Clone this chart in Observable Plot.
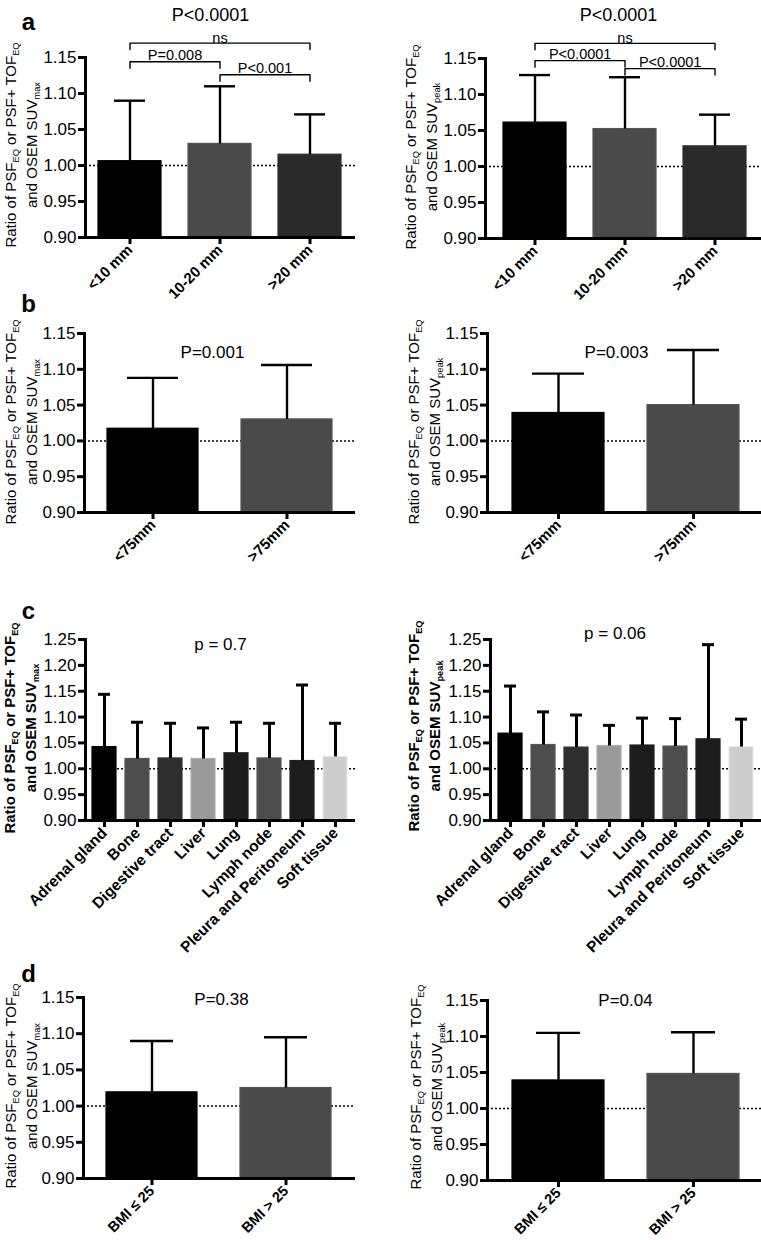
<!DOCTYPE html>
<html><head><meta charset="utf-8">
<script src="https://cdn.jsdelivr.net/npm/d3@7"></script>
<script src="https://cdn.jsdelivr.net/npm/@observablehq/plot@0.6"></script>
<style>
body{margin:0;background:#fff;font-family:"Liberation Sans",Arial,Helvetica,sans-serif;}
#fig{position:relative;width:761px;height:1240px;overflow:hidden;background:#fff;}
.pn{position:absolute;}
.ylab{position:absolute;transform:translate(-50%,-50%) rotate(-90deg);white-space:nowrap;text-align:center;font-size:15px;line-height:21px;color:#000;}
.ylab sub{font-size:0.62em;vertical-align:-0.3em;line-height:0;}
.ylab.bold{font-weight:bold;}
</style></head>
<body><div id="fig"></div>
<script>
// ---------- data ----------
const yMin = 0.90;
const yTicksNarrow = [0.90, 0.95, 1.00, 1.05, 1.10, 1.15];
const yTicksWide = [0.90, 0.95, 1.00, 1.05, 1.10, 1.15, 1.20, 1.25];

// (a) lesion size
const sizeCats = ["<10 mm", "10-20 mm", ">20 mm"];
const sizeMaxMean = [1.006, 1.030, 1.015];
const sizeMaxErr = [1.090, 1.110, 1.071];
const sizePeakMean = [1.061, 1.052, 1.028];
const sizePeakErr = [1.127, 1.124, 1.072];
const sizeColors = ["#000000", "#4a4a4a", "#2a2a2a"];
const sizeMaxTest = "P<0.0001";
const sizePeakTest = "P<0.0001";
const sizeMaxBrFrom = ["<10 mm", "<10 mm", "10-20 mm"];
const sizeMaxBrTo = [">20 mm", "10-20 mm", ">20 mm"];
const sizeMaxBrLabel = ["ns", "P=0.008", "P<0.001"];
const sizeMaxBrLevel = [1.170, 1.144, 1.126];
const sizePeakBrFrom = ["<10 mm", "<10 mm", "10-20 mm"];
const sizePeakBrTo = [">20 mm", "10-20 mm", ">20 mm"];
const sizePeakBrLabel = ["ns", "P<0.0001", "P<0.0001"];
const sizePeakBrLevel = [1.171, 1.147, 1.136];

// (b) MTV
const mtvCats = ["<75mm", ">75mm"];
const mtvMaxMean = [1.017, 1.030];
const mtvMaxErr = [1.088, 1.106];
const mtvPeakMean = [1.039, 1.050];
const mtvPeakErr = [1.094, 1.127];
const mtvColors = ["#000000", "#4a4a4a"];
const mtvMaxTest = "P=0.001";
const mtvPeakTest = "P=0.003";

// (c) organ
const organCats = ["Adrenal gland", "Bone", "Digestive tract", "Liver", "Lung", "Lymph node", "Pleura and Peritoneum", "Soft tissue"];
const organMaxMean = [1.042, 1.019, 1.020, 1.019, 1.030, 1.020, 1.015, 1.023];
const organMaxErr = [1.144, 1.090, 1.088, 1.079, 1.090, 1.088, 1.162, 1.088];
const organPeakMean = [1.068, 1.046, 1.041, 1.044, 1.045, 1.043, 1.057, 1.042];
const organPeakErr = [1.160, 1.110, 1.104, 1.084, 1.098, 1.097, 1.240, 1.096];
const organColors = ["#000000", "#4d4d4d", "#2e2e2e", "#9a9a9a", "#1c1c1c", "#4d4d4d", "#1c1c1c", "#cdcdcd"];
const organMaxTest = "p = 0.7";
const organPeakTest = "p = 0.06";

// (d) BMI
const bmiCats = ["BMI \u2264 25", "BMI > 25"];
const bmiMaxMean = [1.019, 1.025];
const bmiMaxErr = [1.090, 1.095];
const bmiPeakMean = [1.039, 1.048];
const bmiPeakErr = [1.105, 1.106];
const bmiColors = ["#000000", "#4a4a4a"];
const bmiMaxTest = "P=0.38";
const bmiPeakTest = "P=0.04";

const panelLetters = ["a", "b", "c", "d"];

// ---------- drawing ----------
const fig = document.getElementById("fig");
const FONT = '"Liberation Sans", Arial, Helvetica, sans-serif';

function addPanel(p) {
  const rows = p.cats.map((c, i) => ({
    cat: c, mean: p.means[i], err: p.errs[i], base: yMin,
    fill: p.colors[i], edge: d3.rgb(p.colors[i]).brighter(0.35).formatHex()
  }));
  const n = p.cats.length;
  const fw = p.W - p.mL - p.mR;
  const step = fw / (n - p.pi + 2 * p.po);
  const marks = [
    Plot.ruleY([1], {strokeDasharray: "2,2", strokeWidth: 1.5}),
    Plot.barY(rows, {x: "cat", y1: "base", y2: "mean", fill: "fill", stroke: "edge", strokeWidth: 1.2}),
    Plot.ruleX(rows, {x: "cat", y1: "mean", y2: "err", strokeWidth: p.ew}),
    Plot.tickY(rows, {x: "cat", y: "err", strokeWidth: p.ew, insetLeft: p.cap, insetRight: p.cap}),
    Plot.axisY({ticks: p.yTicks, tickFormat: d3.format(".2f"), tickSize: 7, tickPadding: 2, strokeWidth: 3, fontSize: 17, label: null}),
    Plot.axisX({tickSize: 7, tickPadding: 3, strokeWidth: 3, tickRotate: -45, fontSize: p.xfs, fontWeight: "bold", label: null}),
    Plot.frame({anchor: "left", strokeWidth: 3}),
    Plot.ruleY([yMin], {strokeWidth: 3}),
    Plot.text([p.title], {frameAnchor: "top", dx: p.tdx, dy: p.tdy, fontSize: p.tsize})
  ];
  if (p.letter) {
    marks.push(Plot.text([p.letter], {frameAnchor: "top-left", textAnchor: "middle", dx: p.ldx, dy: p.ldy, fontSize: 24, fontWeight: "bold"}));
  }
  if (p.br) {
    const pts = [];
    const drop = 0.009;
    p.br.from.forEach((f, i) => {
      const t = p.br.to[i], y = p.br.level[i];
      pts.push({k: i, x: f, y: y - drop}, {k: i, x: f, y: y}, {k: i, x: t, y: y}, {k: i, x: t, y: y - drop});
      const ia = p.cats.indexOf(f), ib = p.cats.indexOf(t);
      const lbl = p.br.label[i];
      const even = (ib - ia) % 2 === 0;
      marks.push(Plot.text([{x: even ? p.cats[(ia + ib) / 2] : f, y: y, t: lbl}], {
        x: "x", y: "y", text: "t", fontSize: 14.5,
        dx: even ? 0 : step * (ib - ia) / 2,
        dy: lbl === "ns" ? -5 : -6.5
      }));
    });
    marks.push(Plot.line(pts, {x: "x", y: "y", z: "k", stroke: "#000", strokeWidth: 1.4}));
  }
  const svg = Plot.plot({
    width: p.W, height: p.H,
    marginLeft: p.mL, marginRight: p.mR, marginTop: p.mT, marginBottom: p.mB,
    x: {domain: p.cats, paddingInner: p.pi, paddingOuter: p.po},
    y: {domain: [yMin, p.yMax]},
    color: {type: "identity"},
    style: {fontFamily: FONT, background: "transparent", overflow: "visible", color: "#000"},
    marks
  });
  const div = document.createElement("div");
  div.className = "pn";
  div.style.left = p.L + "px";
  div.style.top = p.T + "px";
  div.style.width = p.W + "px";
  div.style.height = p.H + "px";
  div.appendChild(svg);
  fig.appendChild(div);

  const yl = document.createElement("div");
  yl.className = "ylab" + (p.boldLabel ? " bold" : "");
  yl.style.left = p.ylx + "px";
  yl.style.top = p.yly + "px";
  yl.innerHTML = "Ratio of PSF<sub>EQ</sub> or PSF+ TOF<sub>EQ</sub><br>and OSEM SUV<sub>" + p.suv + "</sub>";
  fig.appendChild(yl);
}

addPanel({cats: sizeCats, means: sizeMaxMean, errs: sizeMaxErr, colors: sizeColors, yMax: 1.15, yTicks: yTicksNarrow,
  L: 0, T: 0, W: 380, H: 300, mL: 85, mR: 25, mT: 57, mB: 63, pi: 0.3, po: 0.15, ew: 2.4, cap: 16, xfs: 15,
  title: sizeMaxTest, tdx: -10, tdy: -49, tsize: 18, suv: "max", ylx: 21, yly: 145,
  letter: panelLetters[0], ldx: -57, ldy: -44.7,
  br: {from: sizeMaxBrFrom, to: sizeMaxBrTo, label: sizeMaxBrLabel, level: sizeMaxBrLevel}});
addPanel({cats: sizeCats, means: sizePeakMean, errs: sizePeakErr, colors: sizeColors, yMax: 1.15, yTicks: yTicksNarrow,
  L: 380, T: 0, W: 390, H: 300, mL: 105, mR: 5, mT: 58, mB: 62, pi: 0.3, po: 0.2, ew: 2.4, cap: 16, xfs: 15,
  title: sizePeakTest, tdx: -7, tdy: -50, tsize: 18, suv: "peak", ylx: 421, yly: 147,
  br: {from: sizePeakBrFrom, to: sizePeakBrTo, label: sizePeakBrLabel, level: sizePeakBrLevel}});

addPanel({cats: mtvCats, means: mtvMaxMean, errs: mtvMaxErr, colors: mtvColors, yMax: 1.15, yTicks: yTicksNarrow,
  L: 0, T: 290, W: 380, H: 300, mL: 84, mR: 25, mT: 43, mB: 78, pi: 0.32, po: 0.17, ew: 2.4, cap: 20, xfs: 15,
  title: mtvMaxTest, tdx: -7.5, tdy: 12, tsize: 17, suv: "max", ylx: 21, yly: 422,
  letter: panelLetters[1], ldx: -56, ldy: -38.5});
addPanel({cats: mtvCats, means: mtvPeakMean, errs: mtvPeakErr, colors: mtvColors, yMax: 1.15, yTicks: yTicksNarrow,
  L: 380, T: 290, W: 390, H: 300, mL: 107, mR: 7, mT: 43, mB: 78, pi: 0.32, po: 0.176, ew: 2.4, cap: 20, xfs: 15,
  title: mtvPeakTest, tdx: -9, tdy: 12, tsize: 17, suv: "peak", ylx: 424, yly: 422});

addPanel({cats: organCats, means: organMaxMean, errs: organMaxErr, colors: organColors, yMax: 1.25, yTicks: yTicksWide,
  L: 0, T: 590, W: 380, H: 380, mL: 85, mR: 25, mT: 49, mB: 150, pi: 0.26, po: 0.15, ew: 3, cap: 6, xfs: 15.5,
  title: organMaxTest, tdx: 0, tdy: -2, tsize: 17, suv: "max", ylx: 20, yly: 728, boldLabel: true,
  letter: panelLetters[2], ldx: -57, ldy: -38});
addPanel({cats: organCats, means: organPeakMean, errs: organPeakErr, colors: organColors, yMax: 1.25, yTicks: yTicksWide,
  L: 380, T: 590, W: 390, H: 380, mL: 110, mR: 9, mT: 49, mB: 150, pi: 0.26, po: 0.124, ew: 3, cap: 6, xfs: 15.5,
  title: organPeakTest, tdx: -11, tdy: -13, tsize: 17, suv: "peak", ylx: 424, yly: 726, boldLabel: true});

addPanel({cats: bmiCats, means: bmiMaxMean, errs: bmiMaxErr, colors: bmiColors, yMax: 1.15, yTicks: yTicksNarrow,
  L: 0, T: 940, W: 380, H: 300, mL: 83, mR: 25, mT: 57, mB: 62, pi: 0.32, po: 0.17, ew: 2.4, cap: 24, xfs: 14.5,
  title: bmiMaxTest, tdx: 2, tdy: -5, tsize: 17, suv: "max", ylx: 21, yly: 1086,
  letter: panelLetters[3], ldx: -55, ldy: -33});
addPanel({cats: bmiCats, means: bmiPeakMean, errs: bmiPeakErr, colors: bmiColors, yMax: 1.15, yTicks: yTicksNarrow,
  L: 380, T: 940, W: 390, H: 300, mL: 107, mR: 7, mT: 60, mB: 60, pi: 0.32, po: 0.176, ew: 2.4, cap: 24, xfs: 14.5,
  title: bmiPeakTest, tdx: 0, tdy: -7, tsize: 17, suv: "peak", ylx: 426, yly: 1087});
</script>
</body></html>
